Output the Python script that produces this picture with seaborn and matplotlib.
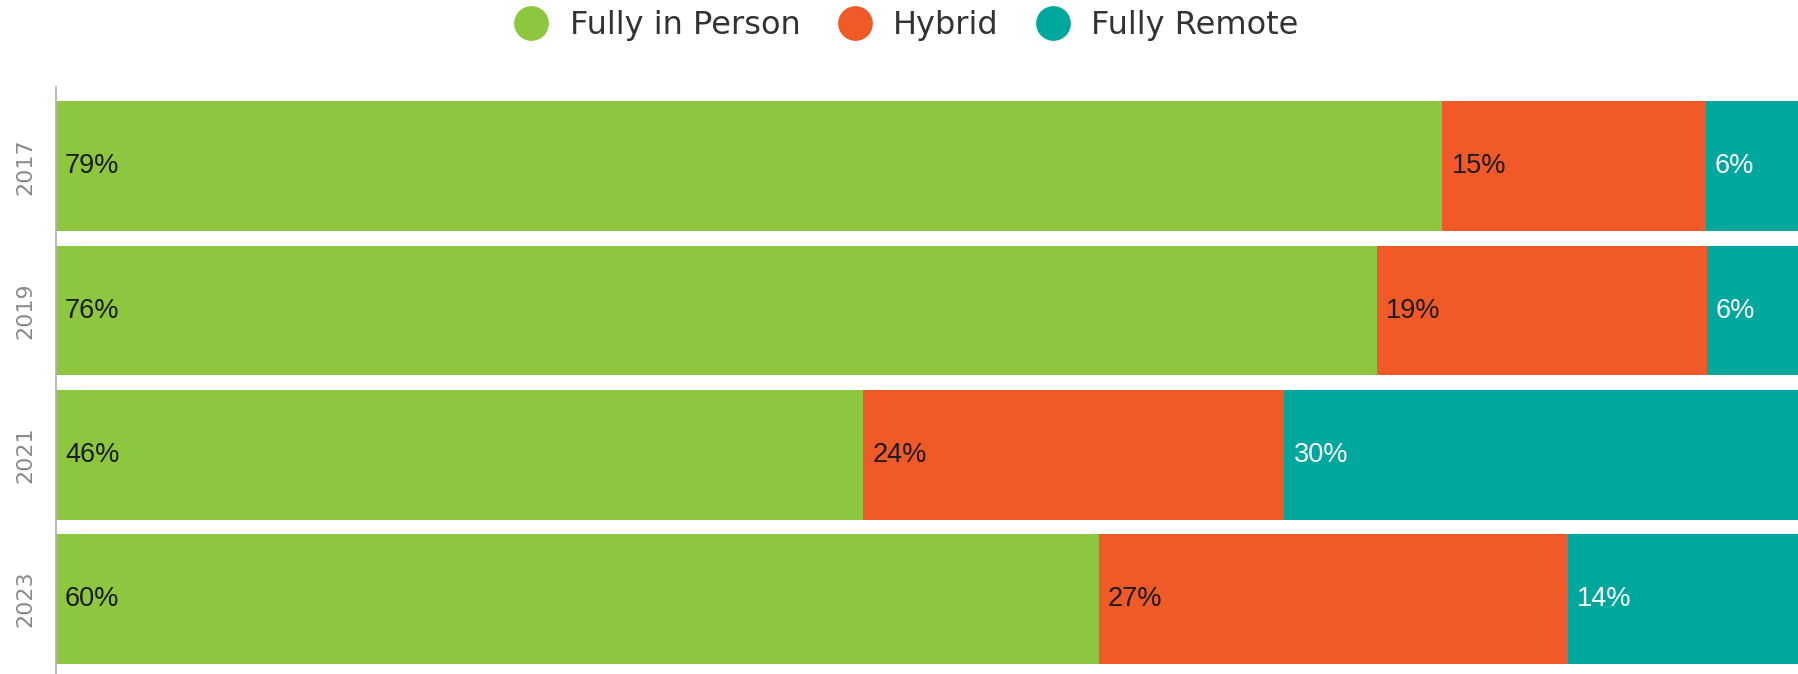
import matplotlib
matplotlib.use("Agg")
import matplotlib.pyplot as plt
from matplotlib.lines import Line2D
import numpy as np
import pandas as pd
import seaborn as sns

years = ["2017", "2019", "2021", "2023"]
in_person = [79, 76, 46, 60]
hybrid = [15, 19, 24, 27]
remote = [6, 6, 30, 14]
series_names = ["Fully in Person", "Hybrid", "Fully Remote"]
colors = ["#8DC63F", "#F05A28", "#00A79D"]
label_colors = ["#1a1a1a", "#1a1a1a", "#ffffff"]

sns.set_style("white")
plt.rcParams["font.family"] = ["Liberation Sans", "DejaVu Sans"]

df = pd.DataFrame({"year": years, "p": in_person, "h": hybrid, "r": remote})
tot = df[["p", "h", "r"]].sum(axis=1)
# bar lengths are shares of the row total
df["p_w"] = df.p / tot * 100
df["h_w"] = df.h / tot * 100
df["r_w"] = df.r / tot * 100
df["c1"] = df.p_w
df["c2"] = df.p_w + df.h_w
df["c3"] = df.c2 + df.r_w

fig = plt.figure(figsize=(17.98, 6.74), dpi=100)
ax = fig.add_axes([56 / 1798, 0.0, 1 - 56 / 1798, 1 - 87 / 674])

# stacked by overdrawing cumulative totals
for col, c in zip(["c3", "c2", "c1"], colors[::-1]):
    sns.barplot(data=df, x=col, y="year", orient="h", color=c, width=0.9,
                saturation=1, ax=ax, linewidth=0)

starts = [np.zeros(len(df)), df.c1.values, df.c2.values]
vals = [in_person, hybrid, remote]
for k in range(3):
    for i in range(len(years)):
        ax.annotate(f"{vals[k][i]}%", (starts[k][i], i), xytext=(6.5, 0),
                    textcoords="offset points", va="center", ha="left",
                    fontsize=19.5, color=label_colors[k])

ax.set_xlim(0, 99.26)
ax.set_ylim(3.52, -0.55)
ax.set_xlabel("")
ax.set_ylabel("")
ax.set_xticks([])
for s in ["top", "right", "bottom"]:
    ax.spines[s].set_visible(False)
ax.spines["left"].set_color("#b0b0b0")
ax.spines["left"].set_linewidth(1.2)
ax.tick_params(axis="y", length=0, pad=15)
for t in ax.get_yticklabels():
    t.set_rotation(90)
    t.set_va("center")
    t.set_fontsize(16)
    t.set_color("#8a8a8a")
    t.set_family("DejaVu Sans")

handles = [Line2D([], [], marker="o", linestyle="", markersize=24,
                  markerfacecolor=c, markeredgecolor=c) for c in colors]
leg = fig.legend(handles, series_names, loc="center", bbox_to_anchor=(0.5, 1 - 25.5 / 674),
                 ncol=3, frameon=False, handletextpad=0.2, columnspacing=0.7,
                 prop={"family": "DejaVu Sans", "size": 23})
for t in leg.get_texts():
    t.set_color("#333333")

fig.savefig("out.png", dpi=100)
